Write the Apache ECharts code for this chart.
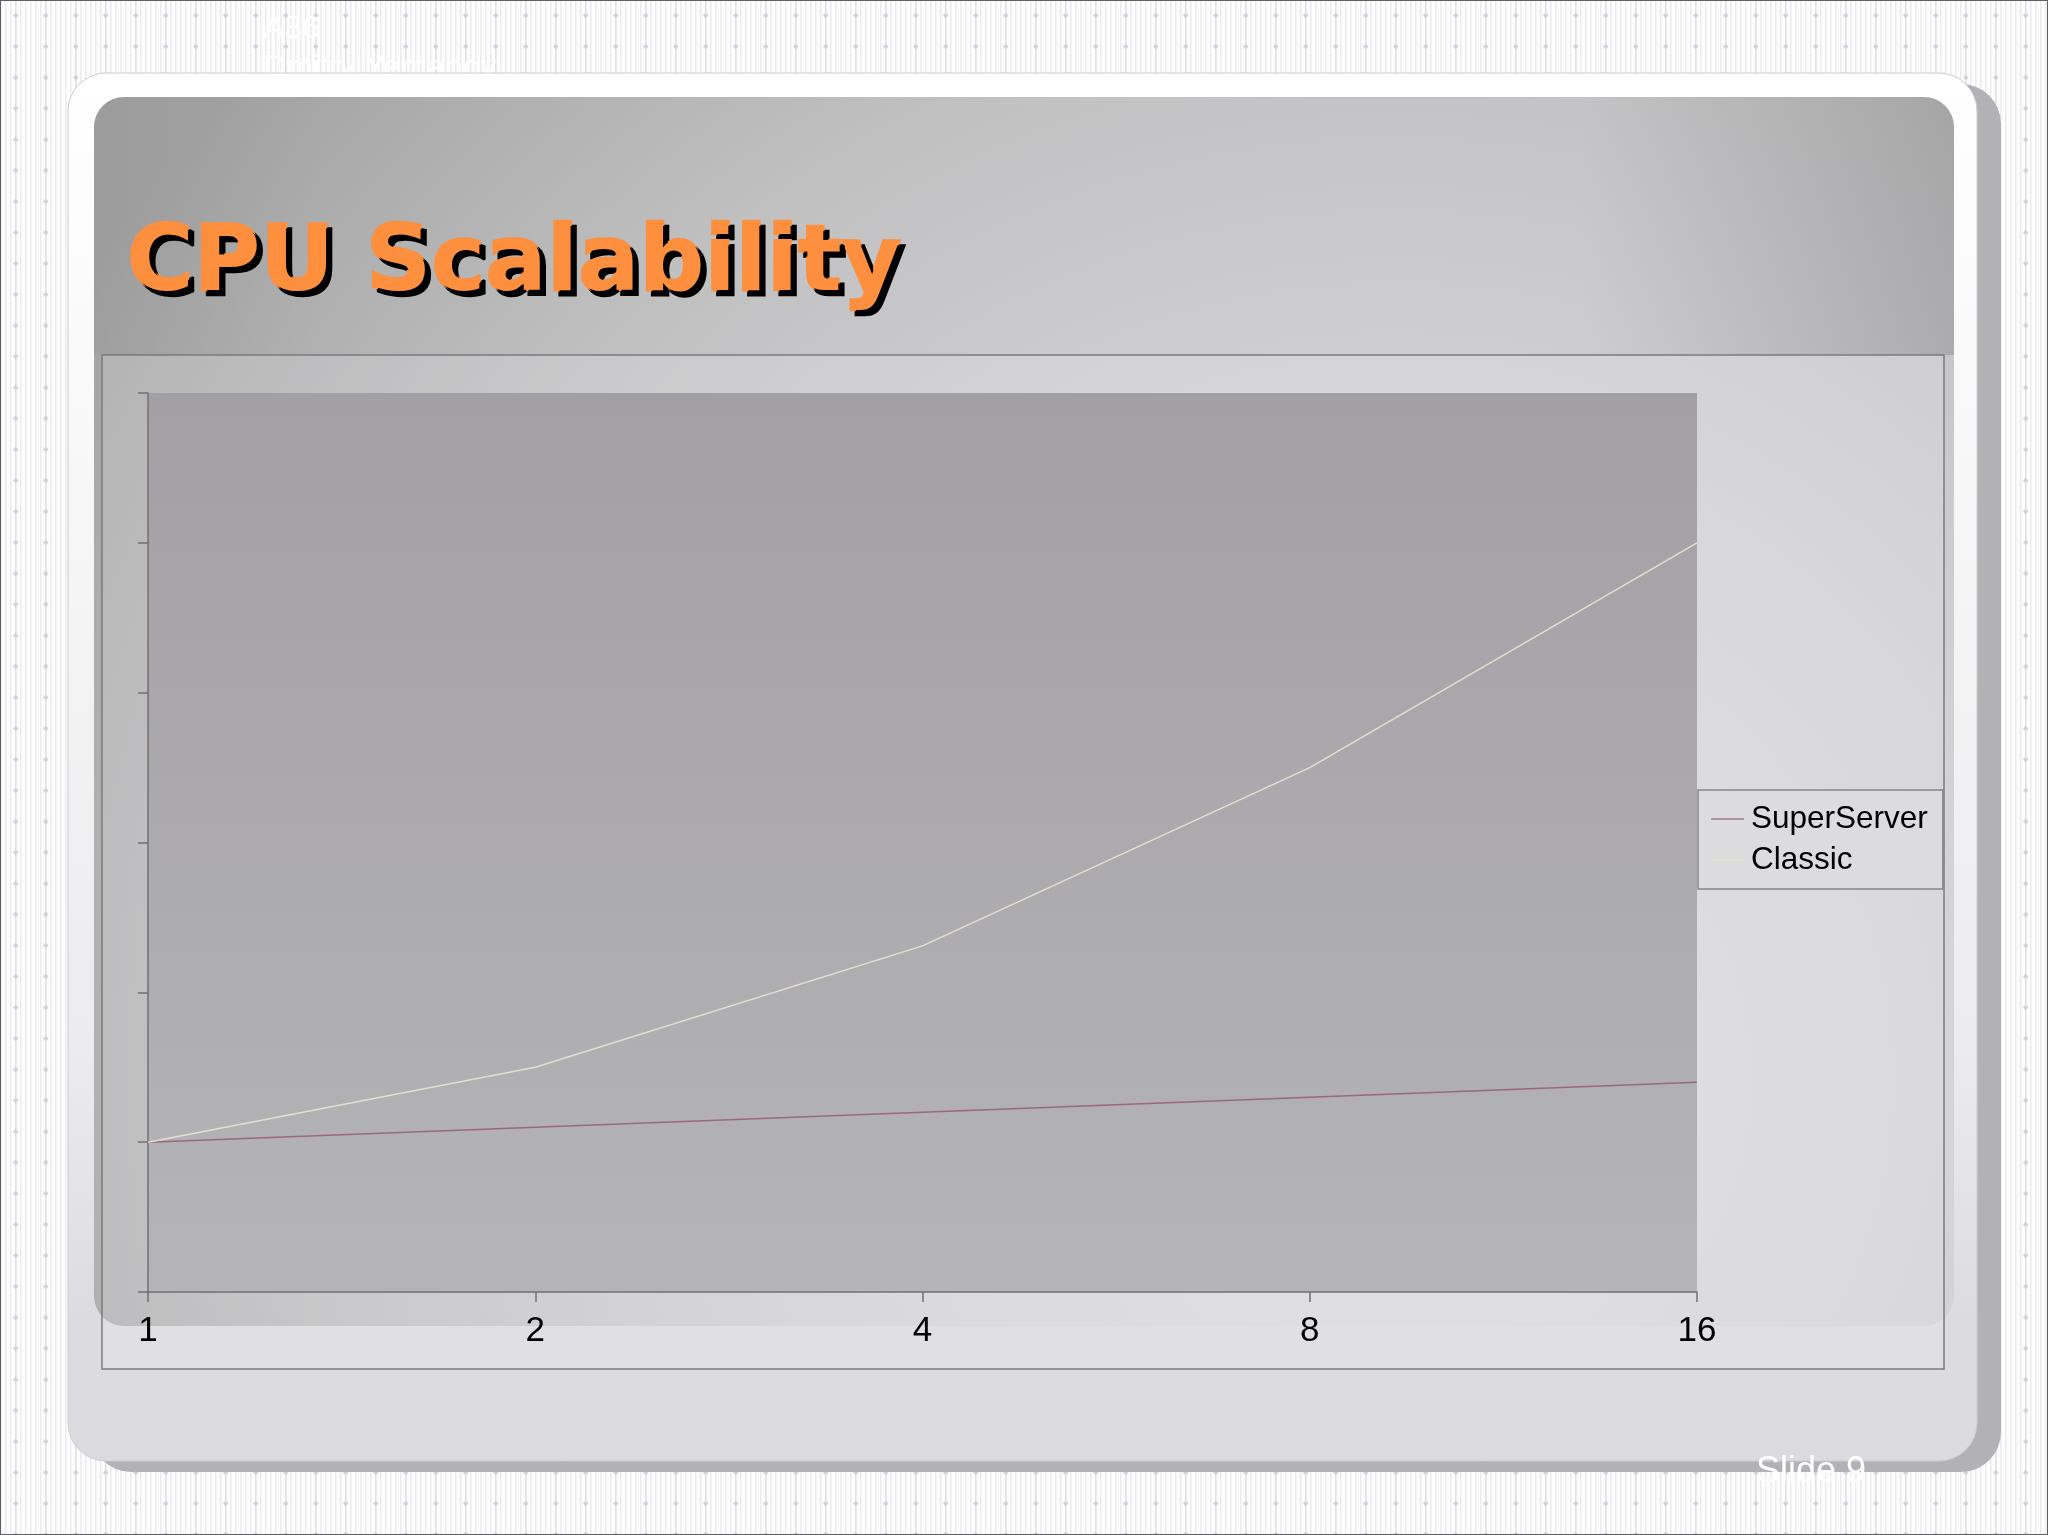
<!DOCTYPE html>
<html><head><meta charset="utf-8">
<script src="https://cdn.jsdelivr.net/npm/echarts@6/dist/echarts.min.js"></script>
<style>html,body{margin:0;padding:0;background:#fff}#c{width:2048px;height:1535px}</style>
</head><body><div id="c"></div>
<script>
// ---- data ----
const categories = ['1', '2', '4', '8', '16'];
const superServer = [1.0, 1.1, 1.2, 1.3, 1.4];
const classic = [1.0, 1.5, 2.31, 3.5, 5.0];
const seriesNames = ['SuperServer', 'Classic'];
const yMin = 0, yMax = 6, yStep = 1;
const titleText = 'CPU Scalability';
const headerLines = ['A36', 'Dmitry Yemanov'];
const footerText = 'Slide 9';

function makePattern() {
  const c = document.createElement('canvas');
  c.width = 30; c.height = 31;
  const g = c.getContext('2d');
  g.fillStyle = '#fdfdfe'; g.fillRect(0, 0, 30, 31);
  g.fillStyle = '#ececef';
  for (let x = 0; x < 30; x += 5) g.fillRect(x, 0, 1.5, 31);
  g.fillStyle = '#e2e2e5';
  g.fillRect(15, 0, 1.5, 31);
  g.fillStyle = '#d4d4d8';
  g.beginPath(); g.moveTo(15.75, 12.5); g.lineTo(18.5, 15.5); g.lineTo(15.75, 18.5); g.lineTo(13, 15.5); g.closePath(); g.fill();
  return c;
}

const chart = echarts.init(document.getElementById('c'), null, {renderer: 'canvas'});
const sansFont = '"Liberation Sans", Arial, sans-serif';

chart.setOption({
  animation: false,
  backgroundColor: '#ffffff',
  graphic: [
    {type: 'rect', z: -20, shape: {x: 0, y: 0, width: 2048, height: 1535},
     style: {fill: {image: makePattern(), repeat: 'repeat'}, stroke: '#606062', lineWidth: 2}},
    {type: 'text', z: -19, x: 263, y: 29, style: {text: headerLines[0], font: '32px ' + sansFont, fill: '#ffffff', verticalAlign: 'middle'}},
    {type: 'text', z: -19, x: 263, y: 68, style: {text: headerLines[1], font: '32px ' + sansFont, fill: '#ffffff', verticalAlign: 'middle'}},
    {type: 'rect', z: -18, shape: {x: 91, y: 84, width: 1910, height: 1388, r: 40},
     style: {fill: '#b2b2b5'}},
    {type: 'rect', z: -17, shape: {x: 68, y: 73, width: 1909, height: 1388, r: 38},
     style: {fill: {type: 'linear', x: 0, y: 0, x2: 0, y2: 1, colorStops: [
       {offset: 0, color: '#ffffff'}, {offset: 0.7, color: '#ececee'}, {offset: 0.9, color: '#dcdbdf'}, {offset: 1, color: '#dbdade'}]},
       stroke: '#cdcdcf', lineWidth: 1}},
    {type: 'rect', z: -16, shape: {x: 94, y: 97, width: 1860, height: 1229, r: 30},
     style: {fill: {type: 'radial', x: 0.7, y: 0.8, r: 1.25, colorStops: [
       {offset: 0, color: '#e0dfe3'}, {offset: 0.4, color: '#d3d2d6'}, {offset: 0.7, color: '#c0c0c1'}, {offset: 1, color: '#a2a2a2'}]}}},
    {type: 'rect', z: -16, z2: 1, shape: {x: 94, y: 97, width: 1860, height: 258, r: [30, 30, 0, 0]},
     style: {fill: {type: 'linear', x: 0, y: 0, x2: 1, y2: 0, colorStops: [
       {offset: 0, color: 'rgba(110,110,112,0.1)'}, {offset: 0.12, color: 'rgba(110,110,112,0)'},
       {offset: 0.8, color: 'rgba(110,110,112,0)'}, {offset: 1, color: 'rgba(110,110,112,0.3)'}]}}},
    {type: 'rect', z: -15, shape: {x: 102, y: 355, width: 1842, height: 1014},
     style: {fill: 'rgba(240,240,246,0.2)', stroke: '#7b7b7d', lineWidth: 1.5}},
    {type: 'text', z: 10, x: 127, y: 266,
     style: {text: titleText, font: 'bold 91px "DejaVu Sans", Verdana, sans-serif', fill: '#fd8f3e',
       stroke: '#fd8f3e', lineWidth: 2.5,
       verticalAlign: 'middle', textShadowColor: '#000000', textShadowOffsetX: 5, textShadowOffsetY: 5, textShadowBlur: 0.5}},
    {type: 'text', z: 10, x: 1811, y: 1472,
     style: {text: footerText, font: '36px ' + sansFont, fill: '#ffffff', align: 'center', verticalAlign: 'middle'}}
  ],
  grid: {
    left: 148, right: 351, top: 393, bottom: 243, containLabel: false,
    show: true, borderWidth: 0,
    backgroundColor: {type: 'linear', x: 0, y: 0, x2: 0, y2: 1, colorStops: [
      {offset: 0, color: '#a2a0a4'}, {offset: 1, color: '#b5b4b7'}]}
  },
  legend: {
    orient: 'vertical', left: 1698, top: 790,
    data: seriesNames,
    icon: 'rect',
    padding: [13, 15, 13, 13], itemGap: 9, itemWidth: 33, itemHeight: 1.5,
    backgroundColor: '#dcdcdf', borderColor: '#858587', borderWidth: 1.5, borderRadius: 0,
    textStyle: {fontSize: 31.5, color: '#000000', fontFamily: sansFont, padding: [0, 0, 0, 2]},
    selectedMode: false
  },
  xAxis: {
    type: 'category', data: categories, boundaryGap: false,
    axisLine: {lineStyle: {color: '#707072', width: 1.5}},
    axisTick: {show: true, length: 10, inside: false, lineStyle: {color: '#707072', width: 1.5}},
    axisLabel: {fontSize: 35, color: '#000000', fontFamily: sansFont, margin: 22},
    splitLine: {show: false}
  },
  yAxis: {
    type: 'value', min: yMin, max: yMax, interval: yStep,
    axisLine: {show: true, lineStyle: {color: '#707072', width: 1.5}},
    axisTick: {show: true, length: 10, lineStyle: {color: '#707072', width: 1.5}},
    axisLabel: {show: false},
    splitLine: {show: false}
  },
  series: [
    {name: seriesNames[0], type: 'line', data: superServer, symbol: 'none',
     lineStyle: {color: '#9a6a78', width: 1.5}, itemStyle: {color: '#a87888'}, z: 3},
    {name: seriesNames[1], type: 'line', data: classic, symbol: 'none',
     lineStyle: {color: '#e2e0ce', width: 1.5}, itemStyle: {color: '#e6e4c4'}, z: 3}
  ]
});
</script></body></html>
